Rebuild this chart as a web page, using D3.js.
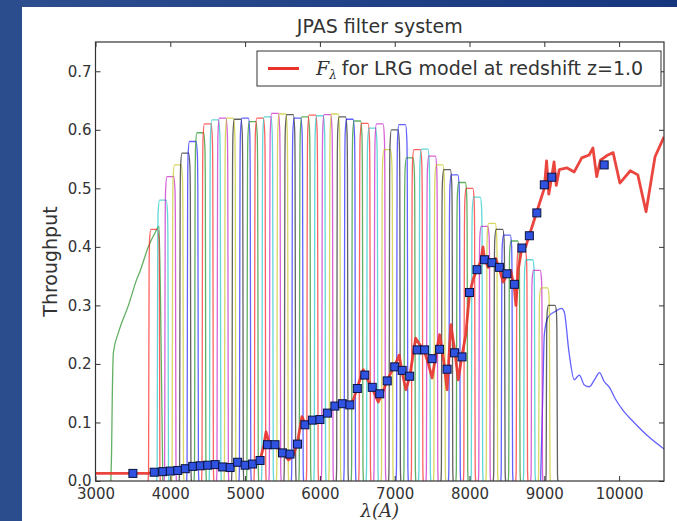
<!DOCTYPE html>
<html>
<head>
<meta charset="utf-8">
<script src="https://cdn.jsdelivr.net/npm/d3@7/dist/d3.min.js"></script>
<style>
  body { margin: 0; background: #fff; }
  svg text { font-family: "DejaVu Sans", sans-serif; fill: #333; }
</style>
</head>
<body>
<div id="chart"></div>
<script>
// ---- data ----
const xTicks = [3000, 4000, 5000, 6000, 7000, 8000, 9000, 10000];
const yTicks = [0.0, 0.1, 0.2, 0.3, 0.4, 0.5, 0.6, 0.7];

// 54 narrow band filters: centre (A) and peak throughput
const narrowCenters = [3785, 3900, 4000, 4100, 4200, 4300, 4400, 4500, 4600, 4700,
  4800, 4900, 5000, 5100, 5200, 5300, 5400, 5500, 5600, 5700,
  5800, 5900, 6000, 6100, 6200, 6300, 6400, 6500, 6600, 6700,
  6800, 6900, 7000, 7100, 7200, 7300, 7400, 7500, 7600, 7700,
  7800, 7900, 8000, 8100, 8200, 8300, 8400, 8500, 8600, 8700,
  8800, 8900, 9000, 9100];
const narrowPeaks = [0.43, 0.48, 0.52, 0.54, 0.56, 0.58, 0.595, 0.61, 0.617, 0.62,
  0.62, 0.618, 0.62, 0.614, 0.62, 0.622, 0.628, 0.627, 0.626, 0.62,
  0.622, 0.625, 0.624, 0.626, 0.627, 0.622, 0.618, 0.615, 0.611, 0.603,
  0.61, 0.566, 0.60, 0.609, 0.552, 0.566, 0.567, 0.555, 0.54, 0.532,
  0.523, 0.51, 0.50, 0.485, 0.435, 0.44, 0.43, 0.42, 0.41, 0.395,
  0.378, 0.36, 0.33, 0.30];
// shared narrow band shape: offset from centre (A) and relative throughput
const profileOffset = [-82, -76, -72, -68, -62, -45, 0, 45, 62, 68, 72, 76, 82];
const profileRel = [0, 0.04, 0.45, 0.86, 0.96, 1.0, 1.0, 1.0, 0.96, 0.86, 0.45, 0.04, 0];

// broad filter on the blue side (green curve)
const uBroadWave = [3205, 3215, 3225, 3240, 3305, 3440, 3550, 3600, 3706, 3800, 3850, 3880, 3900];
const uBroadThru = [0, 0.05, 0.15, 0.22, 0.253, 0.30, 0.344, 0.36, 0.40, 0.425, 0.435, 0.2, 0];

// broad filter on the red side (blue curve with long tail)
const zBroadWave = [8950, 8980, 9000, 9050, 9150, 9230, 9266, 9330, 9400, 9440, 9468, 9535,
  9600, 9680, 9737, 9800, 9871, 9950, 10050, 10200, 10400, 10650];
const zBroadThru = [0, 0.15, 0.25, 0.28, 0.29, 0.295, 0.289, 0.22, 0.173, 0.178, 0.181, 0.164,
  0.161, 0.175, 0.185, 0.17, 0.16, 0.14, 0.121, 0.1, 0.075, 0.05];

// LRG model spectrum at z=1.0
const fluxWave = [3000, 3300, 3500, 3700, 3800, 3900, 4000, 4100, 4200, 4300,
  4400, 4500, 4600, 4700, 4800, 4900, 5000, 5100, 5200, 5250,
  5280, 5330, 5400, 5450, 5500, 5580, 5650, 5700, 5760, 5800,
  5900, 6000, 6100, 6200, 6300, 6400, 6450, 6500, 6580, 6650,
  6700, 6780, 6850, 6900, 6950, 7000, 7060, 7100, 7150, 7200,
  7280, 7350, 7400, 7450, 7500, 7550, 7600, 7650, 7700, 7750,
  7800, 7850, 7900, 7950, 8000, 8050, 8100, 8150, 8180, 8200,
  8250, 8300, 8350, 8400, 8450, 8500, 8550, 8600, 8620, 8650,
  8700, 8750, 8800, 8850, 8900, 8950, 9000, 9030, 9060, 9100,
  9130, 9160, 9200, 9300, 9400, 9500, 9600, 9650, 9700, 9750,
  9850, 9920, 10010, 10150, 10250, 10360, 10480, 10600];
const fluxVal = [0.013, 0.013, 0.013, 0.013, 0.015, 0.016, 0.017, 0.018, 0.021, 0.025,
  0.026, 0.027, 0.028, 0.025, 0.023, 0.032, 0.027, 0.030, 0.036, 0.060,
  0.084, 0.062, 0.064, 0.055, 0.048, 0.036, 0.045, 0.066, 0.110, 0.098,
  0.104, 0.105, 0.117, 0.128, 0.133, 0.128, 0.140, 0.160, 0.190, 0.170,
  0.158, 0.135, 0.155, 0.172, 0.185, 0.197, 0.215, 0.185, 0.156, 0.178,
  0.244, 0.230, 0.220, 0.200, 0.176, 0.215, 0.250, 0.210, 0.156, 0.267,
  0.225, 0.173, 0.215, 0.250, 0.320, 0.345, 0.362, 0.375, 0.400, 0.380,
  0.365, 0.372, 0.380, 0.362, 0.340, 0.352, 0.360, 0.330, 0.300, 0.360,
  0.398, 0.400, 0.420, 0.440, 0.460, 0.480, 0.500, 0.547, 0.490, 0.520,
  0.545, 0.505, 0.532, 0.535, 0.528, 0.552, 0.557, 0.569, 0.520, 0.548,
  0.557, 0.561, 0.509, 0.530, 0.523, 0.460, 0.554, 0.588];

// synthetic photometry (blue squares)
const photWave = [3500, 3785, 3900, 4000, 4100, 4200, 4300, 4400, 4500, 4600,
  4700, 4800, 4900, 5000, 5100, 5200, 5300, 5400, 5500, 5600,
  5700, 5800, 5900, 6000, 6100, 6200, 6300, 6400, 6500, 6600,
  6700, 6800, 6900, 7000, 7100, 7200, 7300, 7400, 7500, 7600,
  7700, 7800, 7900, 8000, 8100, 8200, 8300, 8400, 8500, 8600,
  8700, 8800, 8900, 9000, 9100, 9800];
const photVal = [0.013, 0.015, 0.016, 0.017, 0.018, 0.021, 0.025, 0.026, 0.027, 0.028,
  0.024, 0.023, 0.032, 0.027, 0.029, 0.035, 0.062, 0.062, 0.048, 0.046,
  0.063, 0.096, 0.104, 0.105, 0.116, 0.128, 0.132, 0.130, 0.158, 0.181,
  0.160, 0.149, 0.171, 0.195, 0.189, 0.179, 0.224, 0.224, 0.209, 0.225,
  0.191, 0.219, 0.212, 0.322, 0.361, 0.378, 0.373, 0.365, 0.354, 0.336,
  0.398, 0.419, 0.458, 0.506, 0.519, 0.540];

// old matplotlib colour cycle b g r c m y k
const colorCycle = ['#0000ff', '#008000', '#ff0000', '#00bfbf', '#bf00bf', '#bfbf00', '#000000'];

// ---- layout ----
const W = 677, H = 521;
const plot = {left: 95.5, right: 664, top: 42, bottom: 481};

const svg = d3.select('#chart').append('svg')
    .attr('width', W)
    .attr('height', H);

// slide frame
const defs = svg.append('defs');
const grad = defs.append('linearGradient').attr('id', 'frameGrad')
    .attr('x1', 0).attr('y1', 0).attr('x2', 1).attr('y2', 0);
grad.append('stop').attr('offset', '0%').attr('stop-color', '#2d4f8f');
grad.append('stop').attr('offset', '100%').attr('stop-color', '#16367e');
svg.append('rect').attr('width', W).attr('height', H).attr('fill', '#fff');
svg.append('rect').attr('x', 0).attr('y', 0).attr('width', W).attr('height', 7).attr('fill', 'url(#frameGrad)');
svg.append('rect').attr('x', 0).attr('y', 0).attr('width', 22).attr('height', H).attr('fill', '#2c4d8d');

defs.append('clipPath').attr('id', 'plotClip')
  .append('rect')
    .attr('x', plot.left).attr('y', plot.top)
    .attr('width', plot.right - plot.left).attr('height', plot.bottom - plot.top);

const x = d3.scaleLinear().domain([3000, 10600]).range([plot.left, plot.right]);
const y = d3.scaleLinear().domain([0, 0.75]).range([plot.bottom, plot.top]);

const line = d3.line()
    .x(d => x(d[0]))
    .y(d => y(d[1]))
    .curve(d3.curveMonotoneX);

const g = svg.append('g').attr('clip-path', 'url(#plotClip)');

// filters
const filterCurves = [];
filterCurves.push({pts: d3.zip(zBroadWave, zBroadThru), color: colorCycle[0]});
filterCurves.push({pts: d3.zip(uBroadWave, uBroadThru), color: colorCycle[1]});
narrowCenters.forEach((c, i) => {
    const pts = profileOffset.map((o, k) => [c + o, profileRel[k] * narrowPeaks[i]]);
    filterCurves.push({pts: pts, color: colorCycle[(i + 2) % colorCycle.length]});
});

g.selectAll('path.filter')
  .data(filterCurves)
  .join('path')
    .attr('class', 'filter')
    .attr('d', d => line(d.pts))
    .attr('fill', 'none')
    .attr('stroke', d => d.color)
    .attr('stroke-opacity', 0.62)
    .attr('stroke-width', 1.3);

// model spectrum
g.append('path')
    .datum(d3.zip(fluxWave, fluxVal))
    .attr('d', d3.line().x(d => x(d[0])).y(d => y(d[1])))
    .attr('fill', 'none')
    .attr('stroke', '#e8322a')
    .attr('stroke-opacity', 0.9)
    .attr('stroke-width', 2.8)
    .attr('stroke-linejoin', 'round');

// photometry squares
const sq = 8;
g.selectAll('rect.phot')
  .data(d3.zip(photWave, photVal))
  .join('rect')
    .attr('class', 'phot')
    .attr('x', d => x(d[0]) - sq / 2)
    .attr('y', d => y(d[1]) - sq / 2)
    .attr('width', sq)
    .attr('height', sq)
    .attr('fill', '#2f52e0')
    .attr('stroke', '#0a1240')
    .attr('stroke-width', 1);

// axes (ticks inward on all four sides)
function styleAxis(sel) {
    sel.select('.domain').remove();
    sel.selectAll('.tick line').attr('stroke', '#333');
    sel.selectAll('.tick text').attr('fill', '#333').style('font-size', '15px')
       .style('font-family', '"DejaVu Sans", sans-serif');
}
svg.append('g')
    .attr('transform', `translate(0,${plot.bottom})`)
    .call(d3.axisBottom(x).tickValues(xTicks).tickFormat(d3.format('d')).tickSize(-5).tickSizeOuter(0).tickPadding(7))
    .call(styleAxis);
svg.append('g')
    .attr('transform', `translate(0,${plot.top})`)
    .call(d3.axisTop(x).tickValues(xTicks).tickFormat('').tickSize(-5).tickSizeOuter(0))
    .call(styleAxis);
svg.append('g')
    .attr('transform', `translate(${plot.left},0)`)
    .call(d3.axisLeft(y).tickValues(yTicks).tickFormat(d3.format('.1f')).tickSize(-5).tickSizeOuter(0).tickPadding(4))
    .call(styleAxis);
svg.append('g')
    .attr('transform', `translate(${plot.right},0)`)
    .call(d3.axisRight(y).tickValues(yTicks).tickFormat('').tickSize(-5).tickSizeOuter(0))
    .call(styleAxis);

svg.append('rect')
    .attr('x', plot.left).attr('y', plot.top)
    .attr('width', plot.right - plot.left).attr('height', plot.bottom - plot.top)
    .attr('fill', 'none')
    .attr('stroke', '#333')
    .attr('stroke-width', 1.2);

// title and axis labels
svg.append('text')
    .attr('x', (plot.left + plot.right) / 2)
    .attr('y', 33)
    .attr('text-anchor', 'middle')
    .style('font-size', '19px')
    .text('JPAS filter system');

svg.append('text')
    .attr('transform', `translate(57,${(plot.top + plot.bottom) / 2}) rotate(-90)`)
    .attr('text-anchor', 'middle')
    .style('font-size', '19px')
    .text('Throughput');

svg.append('text')
    .attr('x', (plot.left + plot.right) / 2)
    .attr('y', 517)
    .attr('text-anchor', 'middle')
    .style('font-family', '"DejaVu Serif", serif')
    .style('font-style', 'italic')
    .style('font-size', '18px')
    .text('λ(A)');

// legend
const leg = svg.append('g');
leg.append('rect')
    .attr('x', 257).attr('y', 51).attr('width', 404).attr('height', 35)
    .attr('fill', '#fff').attr('stroke', '#333').attr('stroke-width', 1);
leg.append('line')
    .attr('x1', 268).attr('x2', 299).attr('y1', 68.5).attr('y2', 68.5)
    .attr('stroke', '#e8322a').attr('stroke-width', 3);
const lt = leg.append('text').attr('x', 316).attr('y', 75).style('font-size', '19px');
lt.append('tspan').style('font-family', '"DejaVu Serif", serif').style('font-style', 'italic').text('F');
lt.append('tspan').attr('dy', 4).style('font-family', '"DejaVu Serif", serif').style('font-style', 'italic')
    .style('font-size', '12px').text('λ');
lt.append('tspan').attr('dy', -4).attr('dx', 5).text('for LRG model at redshift z=1.0');
</script>
</body>
</html>
